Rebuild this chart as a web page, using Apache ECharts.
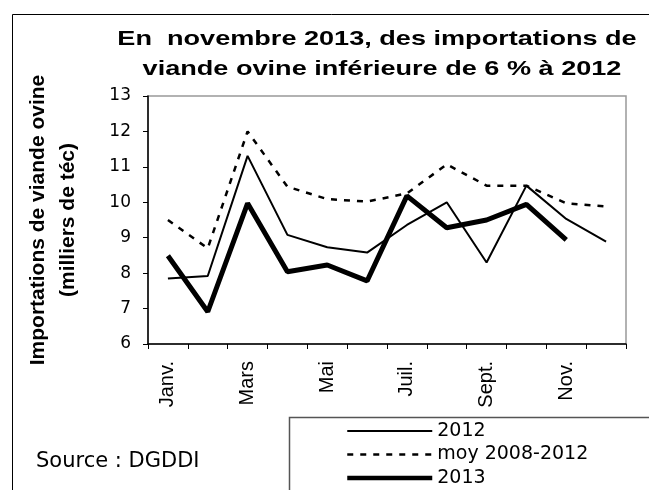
<!DOCTYPE html>
<html>
<head>
<meta charset="utf-8">
<script src="https://cdn.jsdelivr.net/npm/echarts@6/dist/echarts.min.js"></script>
<style>
html,body{margin:0;padding:0;background:#fff;}
#c{width:649px;height:490px;}
</style>
</head>
<body>
<div id="c"></div>
<script>
var months = ['Janv.','Févr.','Mars','Avr.','Mai','Juin','Juil.','Août','Sept.','Oct.','Nov.','Déc.'];
var s2012 = [7.85, 7.92, 11.31, 9.08, 8.73, 8.58, 9.36, 10.0, 8.30, 10.47, 9.53, 8.89];
var sMoy  = [9.5, 8.70, 12.0, 10.44, 10.09, 10.02, 10.25, 11.07, 10.47, 10.47, 9.97, 9.88];
var s2013 = [8.49, 6.91, 9.97, 8.04, 8.23, 7.78, 10.18, 9.28, 9.50, 9.94, 8.94, null];
var yTicks = {min: 6, max: 13, interval: 1};
var titleLines = ['En  novembre 2013, des importations de', 'viande ovine inférieure de 6 % à 2012'];

var arial = 'Liberation Sans, Arial, sans-serif';
var dejavu = 'DejaVu Sans, sans-serif';
var chart = echarts.init(document.getElementById('c'));
chart.setOption({
  animation: false,
  backgroundColor: '#fff',
  grid: {left: 148, right: 23, top: 96, bottom: 146, show: true, borderColor: '#999', borderWidth: 1.5, backgroundColor: 'transparent'},
  xAxis: {
    type: 'category', data: months, boundaryGap: true,
    axisLine: {lineStyle: {color: '#000', width: 1.5}},
    axisTick: {show: true, interval: 0, length: 5, lineStyle: {color: '#000'}},
    axisLabel: {interval: 1, rotate: 90, margin: 17, fontFamily: arial, fontSize: 20, color: '#000'},
    splitLine: {show: false}
  },
  yAxis: {
    type: 'value', min: yTicks.min, max: yTicks.max, interval: yTicks.interval,
    name: 'Importations de viande ovine\n(milliers de téc)',
    nameLocation: 'middle', nameRotate: 90, nameGap: 65,
    nameTextStyle: {fontFamily: arial, fontWeight: 'bold', fontSize: 21, lineHeight: 30, color: '#000'},
    axisLine: {show: true, lineStyle: {color: '#000', width: 1.5}},
    axisTick: {show: true, length: 5, lineStyle: {color: '#000'}},
    axisLabel: {margin: 17, fontFamily: dejavu, fontSize: 17, color: '#000'},
    splitLine: {show: false}
  },
  legend: {
    orient: 'vertical', left: 345, top: 421, height: 80, padding: 0,
    itemWidth: 85, itemHeight: 14, itemGap: 3.5,
    itemStyle: {opacity: 0},
    textStyle: {fontFamily: dejavu, fontSize: 19, lineHeight: 20, color: '#000'},
    data: [
      {name: '2012', lineStyle: {width: 2, color: '#000'}},
      {name: 'moy 2008-2012', lineStyle: {width: 2.5, color: '#000', type: [6, 7]}},
      {name: '2013', lineStyle: {width: 4.5, color: '#000'}}
    ]
  },
  series: [
    {name: '2012', type: 'line', data: s2012, symbol: 'none', lineStyle: {color: '#000', width: 2}, itemStyle: {color: '#000'}},
    {name: 'moy 2008-2012', type: 'line', data: sMoy, symbol: 'none', lineStyle: {color: '#000', width: 2.5, type: [6, 7]}, itemStyle: {color: '#000'}},
    {name: '2013', type: 'line', data: s2013, symbol: 'none', lineStyle: {color: '#000', width: 5}, itemStyle: {color: '#000'}}
  ],
  graphic: [
    {type: 'rect', left: 10, top: 12, shape: {width: 700, height: 600}, style: {fill: null, stroke: '#000', lineWidth: 1}, silent: true, z: -1},
    {type: 'rect', left: 287, top: 415, shape: {width: 400, height: 74}, style: {fill: null, stroke: '#555', lineWidth: 1.5}, silent: true},
    {type: 'text', x: 377, y: 39, scaleX: 1.29, style: {text: titleLines[0], font: 'bold 21px Liberation Sans, Arial, sans-serif', fill: '#000', textAlign: 'center', textVerticalAlign: 'middle'}},
    {type: 'text', x: 382, y: 69, scaleX: 1.29, style: {text: titleLines[1], font: 'bold 21px Liberation Sans, Arial, sans-serif', fill: '#000', textAlign: 'center', textVerticalAlign: 'middle'}},
    {type: 'text', x: 36, y: 462, style: {text: 'Source : DGDDI', font: '21px DejaVu Sans, sans-serif', fill: '#000', textAlign: 'left', textVerticalAlign: 'middle'}}
  ]
});
</script>
</body>
</html>
